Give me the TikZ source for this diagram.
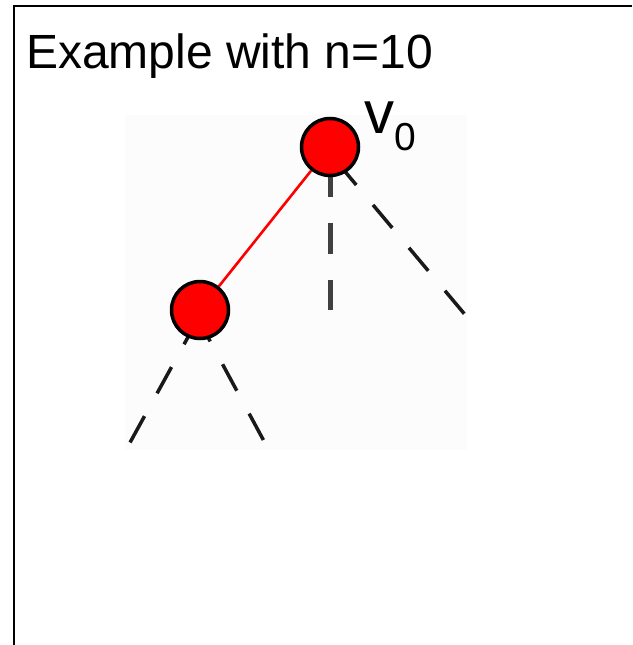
\documentclass[tikz,border=0pt]{standalone}
\usepackage{fontspec}
\setmainfont{Liberation Sans}
\pgfdeclarelayer{background}
\pgfsetlayers{background,main}
\tikzset{
  vertex/.style={circle, fill=red, draw=black, line width=3.5pt, minimum size=57pt, inner sep=0pt},
  treeedge/.style={red, line width=2.6pt},
  dashA/.style={black!90, line width=3.5pt, dash pattern=on 30pt off 26pt},
  dashV/.style={black!75, line width=5pt, dash pattern=on 31pt off 26pt},
  frameline/.style={black, line width=2.5pt},
}
\begin{document}
\begin{tikzpicture}[x=1pt,y=-1pt]
\useasboundingbox (0,0) rectangle (632,645);
\draw[frameline] (14,645) -- (14,6) -- (632,6);
\node[anchor=base west, inner sep=0pt] (title) at (26,68) {\fontsize{48}{50}\selectfont Example with n=10};
\node[vertex] (v0) at (330,147) {};
\node[vertex] (v1) at (200,310) {};
\node[anchor=base west, inner sep=0pt] (lab) at (364,133) {\fontsize{60}{60}\selectfont v\raisebox{-17pt}{\fontsize{39}{40}\selectfont 0}};
\coordinate (a0) at (330,166);
\coordinate (a1) at (330,310);
\coordinate (b0) at (337,162);
\coordinate (b1) at (467,317);
\coordinate (c0) at (198.5,318);
\coordinate (c1) at (127,448);
\coordinate (d0) at (196,315);
\coordinate (d1) at (265,443);
\begin{pgfonlayer}{background}
\fill[black!1] (125,115) rectangle (467,450);
\draw[dashV] (a0) -- (a1);
\draw[dashA] (b0) -- (b1);
\draw[dashA] (c0) -- (c1);
\draw[dashA] (d0) -- (d1);
\draw[treeedge] (v0) -- (v1);
\end{pgfonlayer}
\end{tikzpicture}
\end{document}
